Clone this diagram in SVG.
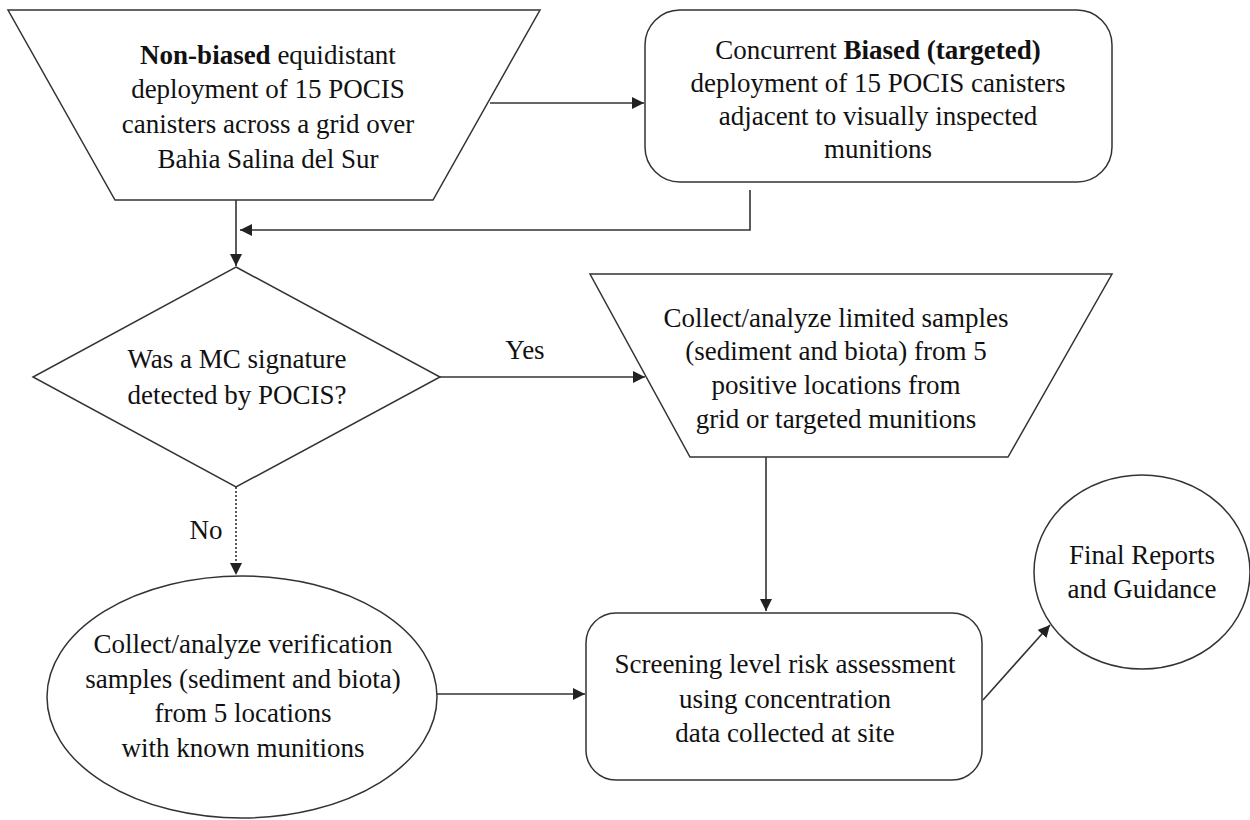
<svg xmlns="http://www.w3.org/2000/svg" width="1250" height="820" viewBox="0 0 1250 820">
<defs>
<style>
.shape{fill:#fff;stroke:#333;stroke-width:1.5}
.t{font-family:"Liberation Serif","Times New Roman",serif;font-size:27px;fill:#111;text-anchor:middle}
.c{fill:none;stroke:#333;stroke-width:1.6}
</style>
<marker id="ah" viewBox="0 0 10 10" refX="10" refY="5" markerWidth="12" markerHeight="12" markerUnits="userSpaceOnUse" orient="auto">
<path d="M0,0 L10,5 L0,10 z" fill="#222"/>
</marker>
</defs>
<rect width="1250" height="820" fill="#fff"/>
<g id="connectors">
<line class="c" x1="490" y1="103" x2="644" y2="103" marker-end="url(#ah)"/>
<polyline class="c" points="750,190 750,230 240,230" marker-end="url(#ah)"/>
<line class="c" x1="236" y1="200" x2="236" y2="230"/>
<line class="c" x1="236" y1="230" x2="236" y2="266" marker-end="url(#ah)"/>
<line class="c" x1="440" y1="377" x2="645" y2="377" marker-end="url(#ah)"/>
<text class="t" x="525" y="359">Yes</text>
<line class="c" x1="236" y1="487" x2="236" y2="575" stroke-dasharray="2,2" marker-end="url(#ah)"/>
<text class="t" x="206" y="539">No</text>
<line class="c" x1="766" y1="457" x2="766" y2="611" marker-end="url(#ah)"/>
<line class="c" x1="437" y1="694" x2="585" y2="694" marker-end="url(#ah)"/>
<line class="c" x1="983" y1="700" x2="1050" y2="625" stroke="#555" marker-end="url(#ah)"/>
</g>
<g id="node-nonbiased">
<polygon class="shape" points="8,10 540,10 433,200 115,200"/>
<text class="t" x="268" y="64"><tspan font-weight="bold">Non-biased</tspan> equidistant</text>
<text class="t" x="268" y="98">deployment of 15 POCIS</text>
<text class="t" x="268" y="133">canisters across a grid over</text>
<text class="t" x="268" y="168">Bahia  Salina  del Sur</text>
</g>
<g id="node-biased">
<rect class="shape" x="645" y="10" width="467" height="172" rx="35" ry="35"/>
<text class="t" x="878" y="59">Concurrent <tspan font-weight="bold">Biased (targeted)</tspan></text>
<text class="t" x="878" y="92">deployment of 15 POCIS canisters</text>
<text class="t" x="878" y="125">adjacent to visually  inspected</text>
<text class="t" x="878" y="158">munitions</text>
</g>
<g id="node-decision">
<polygon class="shape" points="236,267 440,377 236,487 33,377"/>
<text class="t" x="237" y="368">Was a MC signature</text>
<text class="t" x="237" y="404">detected by POCIS?</text>
</g>
<g id="node-collect-limited">
<polygon class="shape" points="590,274 1112,274 1008,457 690,457"/>
<text class="t" x="836" y="327">Collect/analyze  limited  samples</text>
<text class="t" x="836" y="360">(sediment and biota) from 5</text>
<text class="t" x="836" y="394">positive locations from</text>
<text class="t" x="836" y="428">grid or targeted munitions</text>
</g>
<g id="node-verification">
<ellipse class="shape" cx="242" cy="697" rx="195" ry="121"/>
<text class="t" x="243" y="653">Collect/analyze verification</text>
<text class="t" x="243" y="688">samples (sediment and biota)</text>
<text class="t" x="243" y="722">from 5 locations</text>
<text class="t" x="243" y="757">with known munitions</text>
</g>
<g id="node-screening">
<rect class="shape" x="586" y="613" width="396" height="167" rx="30" ry="30"/>
<text class="t" x="785" y="673">Screening level risk assessment</text>
<text class="t" x="785" y="708">using concentration</text>
<text class="t" x="785" y="742">data collected at site</text>
</g>
<g id="node-final">
<ellipse class="shape" cx="1142" cy="572" rx="108" ry="97"/>
<text class="t" x="1142" y="564">Final Reports</text>
<text class="t" x="1142" y="598">and Guidance</text>
</g>
</svg>
